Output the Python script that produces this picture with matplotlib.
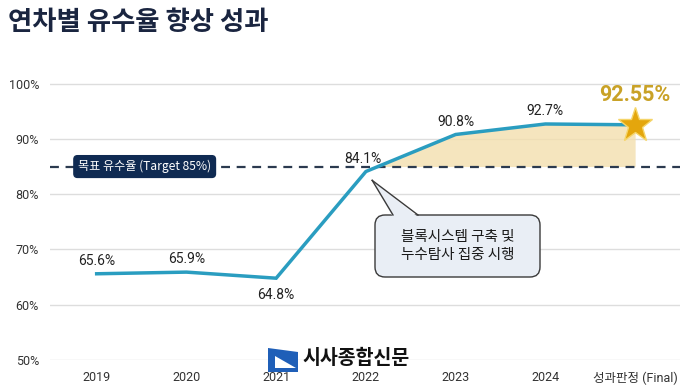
import matplotlib
matplotlib.use("Agg")
import matplotlib.pyplot as plt
import numpy as np
from matplotlib.patches import FancyBboxPatch, Polygon
from matplotlib.lines import Line2D
from matplotlib.transforms import IdentityTransform

plt.rcParams['font.family'] = ['Roboto', 'Noto Sans CJK KR', 'DejaVu Sans']

categories = ["2019", "2020", "2021", "2022", "2023", "2024", "성과판정 (Final)"]
values = [65.6, 65.9, 64.8, 84.1, 90.8, 92.7, 92.55]
value_labels = ["65.6%", "65.9%", "64.8%", "84.1%", "90.8%", "92.7%", "92.55%"]
target = 85
yticks = [50, 60, 70, 80, 90, 100]
ytick_labels = ["50%", "60%", "70%", "80%", "90%", "100%"]

W, H = 680, 387
fig = plt.figure(figsize=(W/100, H/100), dpi=100)
ax = fig.add_axes([50/W, 27/H, 630/W, 304/H])
x = np.arange(len(categories))

ax.set_xlim(-0.52, 6.5)
ax.set_ylim(50, 105)
for s in ax.spines.values():
    s.set_visible(False)
ax.set_yticks(yticks)
ax.set_yticklabels(ytick_labels, fontsize=9, color="#333333")
ax.set_xticks(x)
ax.set_xticklabels(categories, fontsize=9, color="#333333")
ax.tick_params(length=0)
ax.tick_params(axis='y', pad=8)
ax.tick_params(axis='x', pad=8)
ax.grid(axis='y', color="#dddddd", linewidth=1)
ax.set_axisbelow(True)

xv = np.array(x, dtype=float)
yv = np.array(values)
ax.fill_between(xv, yv, target, where=yv >= target, interpolate=True,
                color="#f3dfae", alpha=0.8, linewidth=0, zorder=1)
ax.axhline(target, color="#2b3a4f", linestyle=(0, (4, 3)), linewidth=1.6, zorder=2)
ax.plot(xv, yv, color="#2a9dc0", linewidth=2.5, zorder=3, solid_joinstyle='miter')
ax.plot(xv[-1], yv[-1], marker='*', markersize=26, color="#e4a60c",
        markeredgecolor="#f5d56a", markeredgewidth=1, zorder=5)

for i, (xi, yi, lab) in enumerate(zip(xv, yv, value_labels)):
    if i == 6:
        ax.text(xi, yi + 5.4, lab, ha='center', va='center', fontsize=15.5,
                fontweight='bold', color="#c9a227", zorder=6)
    elif i == 2:
        ax.text(xi, yi - 3.1, lab, ha='center', va='center', fontsize=10, color="#222222")
    else:
        ax.text(xi - (0.03 if i == 3 else 0), yi + 2.3, lab, ha='center', va='center',
                fontsize=10, color="#222222")

ax.text(0.535, target, "목표 유수율 (Target 85%)", ha='center', va='center', fontsize=8.7,
        color="white", family=['Noto Sans CJK KR', 'DejaVu Sans'], zorder=6,
        bbox=dict(boxstyle="round,pad=0.35,rounding_size=0.3", fc="#0f2a52", ec="#0f2a52"))

# callout bubble (pixel coordinates)
fig.canvas.draw()
tip = ax.transData.transform((3.07, 82.5))
bx0, bx1, by0, by1 = 375, 540, H - 277, H - 215
box = FancyBboxPatch((bx0, by0), bx1 - bx0, by1 - by0,
                     boxstyle="round,pad=0,rounding_size=10",
                     transform=IdentityTransform(), fc="#e9eef5", ec="#3a3a3a", lw=1, zorder=7)
fig.patches.append(box)
baseL, baseR = (393, by1), (418, by1)
wedge = Polygon([[baseL[0], by1 - 2], [tip[0], tip[1]], [baseR[0], by1 - 2]], closed=True,
                transform=IdentityTransform(), fc="#e9eef5", ec="none", zorder=8)
fig.patches.append(wedge)
for b in (baseL, baseR):
    fig.lines.append(Line2D([b[0], tip[0]], [b[1], tip[1]], color="#3a3a3a", lw=1,
                            transform=IdentityTransform(), zorder=9))
fig.text((bx0 + bx1) / 2 / W, (by0 + by1) / 2 / H, "블록시스템 구축 및\n누수탐사 집중 시행",
         ha='center', va='center', fontsize=10.5, color="#1a1a1a",
         family=['Noto Sans CJK KR', 'DejaVu Sans'], linespacing=1.45, zorder=10)

fig.text(8/W, 1 - 22/H, "연차별 유수율 향상 성과", ha='left', va='center', fontsize=19,
         fontweight='bold', color="#1a2540", family=['Noto Sans CJK KR', 'DejaVu Sans'])

# watermark
fig.text(302/W, 1 - 358/H, "시사종합신문", ha='left', va='center', fontsize=14,
         fontweight='bold', color="#111111", family=['Noto Sans CJK KR', 'DejaVu Sans'], zorder=10)
logo = Polygon([[268/W, 1-348/H], [298/W, 1-352/H], [298/W, 1-372/H], [268/W, 1-372/H]],
               closed=True, transform=fig.transFigure, fc="#1f5fb8", ec="none", zorder=10)
fig.patches.append(logo)
logo2 = Polygon([[275/W, 1-356/H], [296/W, 1-368/H], [275/W, 1-368/H]],
                closed=True, transform=fig.transFigure, fc="white", ec="none", zorder=11)
fig.patches.append(logo2)

fig.savefig("out.png", dpi=100)
